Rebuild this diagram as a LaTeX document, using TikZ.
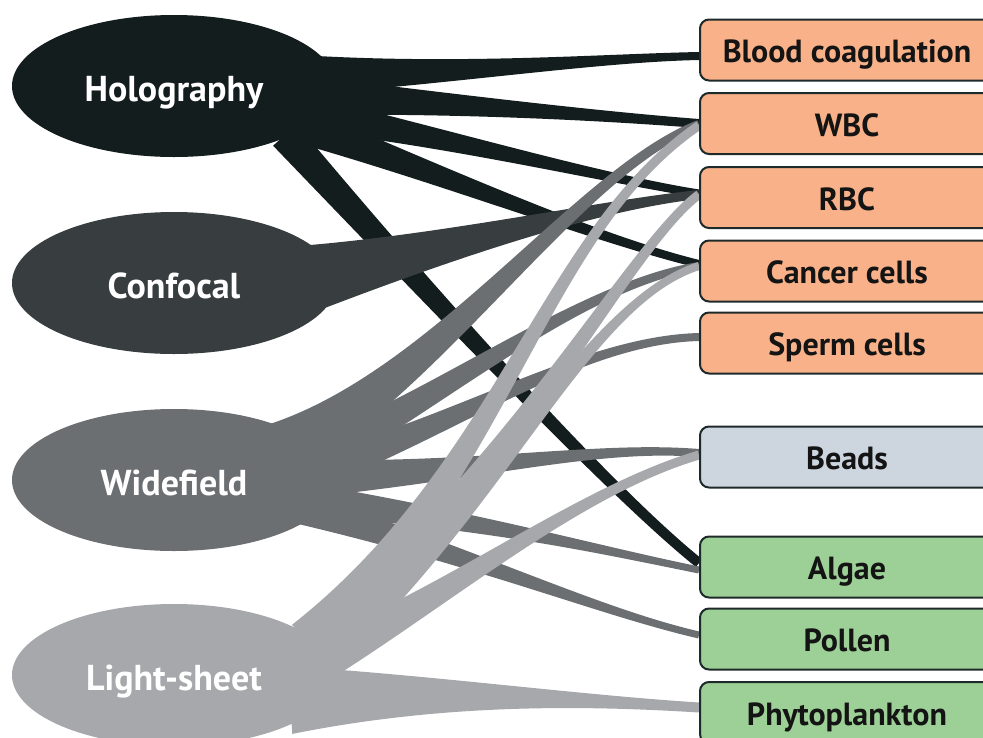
\documentclass[tikz,border=0pt]{standalone}
\usepackage{fontspec}
\setmainfont{PT Sans}
\usetikzlibrary{calc,shapes.geometric}
\definecolor{holoc}{RGB}{19,29,30}
\definecolor{confc}{RGB}{56,62,63}
\definecolor{widec}{RGB}{107,111,113}
\definecolor{lightc}{RGB}{167,168,171}
\definecolor{bloodc}{RGB}{248,177,137}
\definecolor{beadc}{RGB}{205,213,223}
\definecolor{plantc}{RGB}{157,208,150}
\definecolor{edgec}{RGB}{30,42,42}
\pgfdeclarelayer{bands}
\pgfsetlayers{bands,main}
\def\boxw{294pt}
\def\boxh{61pt}
\tikzset{
  src/.style={ellipse,minimum width=324pt,minimum height=142pt,inner sep=0pt,text=white,
    font=\fontsize{36}{42}\selectfont\bfseries,text height=30pt,text depth=0pt},
  target/.style={draw=edgec,line width=2pt,rounded corners=9pt,minimum width=\boxw,minimum height=\boxh,
    inner sep=0pt,text=black!92,font=\fontsize{32}{38}\selectfont\bfseries,text height=25.4pt,text depth=0pt}
}
% tapered band: colour, source, start offset, control 1, control 2, end, half widths at start/control 1/end
\newcommand{\flowband}[9]{%
  \coordinate (s) at ($(#2)+(#3)$);
  \coordinate (c1) at (#4);
  \coordinate (c2) at (#5);
  \coordinate (e) at (#6);
  \fill[#1] ($(s)!#7pt!90:(c1)$) .. controls ($(c1)!#8pt!-90:(s)$) and ($(c2)!#9pt!90:(e)$) .. ($(e)!#9pt!-90:(c2)$)
    -- ($(e)!#9pt!90:(c2)$) .. controls ($(c2)!#9pt!-90:(e)$) and ($(c1)!#8pt!90:(s)$) .. ($(s)!#7pt!-90:(c1)$) -- cycle;}

\begin{document}
\begin{tikzpicture}[x=1pt,y=-1pt]
\useasboundingbox (0,0) rectangle (983,737);
\clip (0,0) rectangle (983,737);

% imaging methods
\node[src,fill=holoc] (holo) at (174,86) {Holography};
\node[src,fill=confc] (conf) at (174,283) {Confocal};
\node[src,fill=widec] (wide) at (174,480) {Widefield};
\node[src,fill=lightc] (light) at (174,675) {Light-sheet};

% samples
\node[target,fill=bloodc] (bc) at (847,50) {Blood coagulation};
\node[target,fill=bloodc] (wbc) at (847,123.5) {WBC};
\node[target,fill=bloodc] (rbc) at (847,197.5) {RBC};
\node[target,fill=bloodc] (cancer) at (847,271) {Cancer cells};
\node[target,fill=bloodc] (sperm) at (847,343) {Sperm cells};
\node[target,fill=beadc] (beads) at (847,457) {Beads};
\node[target,fill=plantc] (algae) at (847,567) {Algae};
\node[target,fill=plantc] (pollen) at (847,639) {Pollen};
\node[target,fill=plantc] (phyto) at (847,712.5) {Phytoplankton};

\begin{pgfonlayer}{bands}
% holography
\flowband{holoc}{holo}{126,-11}{460,74}{600,58}{$(bc.west)+(0,6)$}{20}{9}{4}
\flowband{holoc}{holo}{126,9}{460,104}{600,116}{wbc.west}{20}{9}{4.5}
\flowband{holoc}{holo}{126,26}{450,138}{600,178}{$(rbc.west)+(0,-4)$}{18}{8}{4}
\flowband{holoc}{holo}{126,39}{450,178}{600,240}{$(cancer.west)+(0,-7)$}{18}{8}{4}
\flowband{holoc}{holo}{111,49}{460,330}{620,500}{$(algae.west)+(0,-4)$}{16}{7}{5}
% confocal
\flowband{confc}{conf}{106,2}{430,252}{590,206}{$(rbc.west)+(0,-3)$}{38}{14}{4.5}
% widefield
\flowband{widec}{wide}{106,-30}{440,380}{580,170}{$(wbc.west)+(0,1)$}{28}{11}{4.5}
\flowband{widec}{wide}{131,-18}{440,400}{580,285}{$(cancer.west)+(0,-5)$}{20}{9}{4}
\flowband{widec}{wide}{136,-8}{450,430}{580,340}{$(sperm.west)+(0,-6)$}{18}{8}{4}
\flowband{widec}{wide}{146,-2}{490,470}{600,445}{$(beads.west)+(0,-4)$}{18}{8}{4}
\flowband{widec}{wide}{136,20}{490,522}{600,550}{$(algae.west)+(0,3)$}{16}{7}{3.5}
\flowband{widec}{wide}{126,28}{490,562}{600,612}{$(pollen.west)+(0,-4)$}{16}{7}{3.5}
% light-sheet
\flowband{lightc}{light}{131,-35}{505,470}{545,230}{$(wbc.west)+(0,2)$}{20}{10}{4.5}
\flowband{lightc}{light}{141,-30}{510,480}{630,245}{$(rbc.west)+(0,-3)$}{20}{10}{4.5}
\flowband{lightc}{light}{151,-25}{505,495}{590,300}{$(cancer.west)+(0,-5)$}{20}{10}{4}
\flowband{lightc}{light}{146,-15}{450,595}{580,490}{$(beads.west)+(0,-2)$}{22}{8}{4.5}
\flowband{lightc}{light}{116,25}{440,690}{580,700}{$(phyto.west)+(0,-5)$}{34}{14}{5}
\end{pgfonlayer}
\end{tikzpicture}
\end{document}
